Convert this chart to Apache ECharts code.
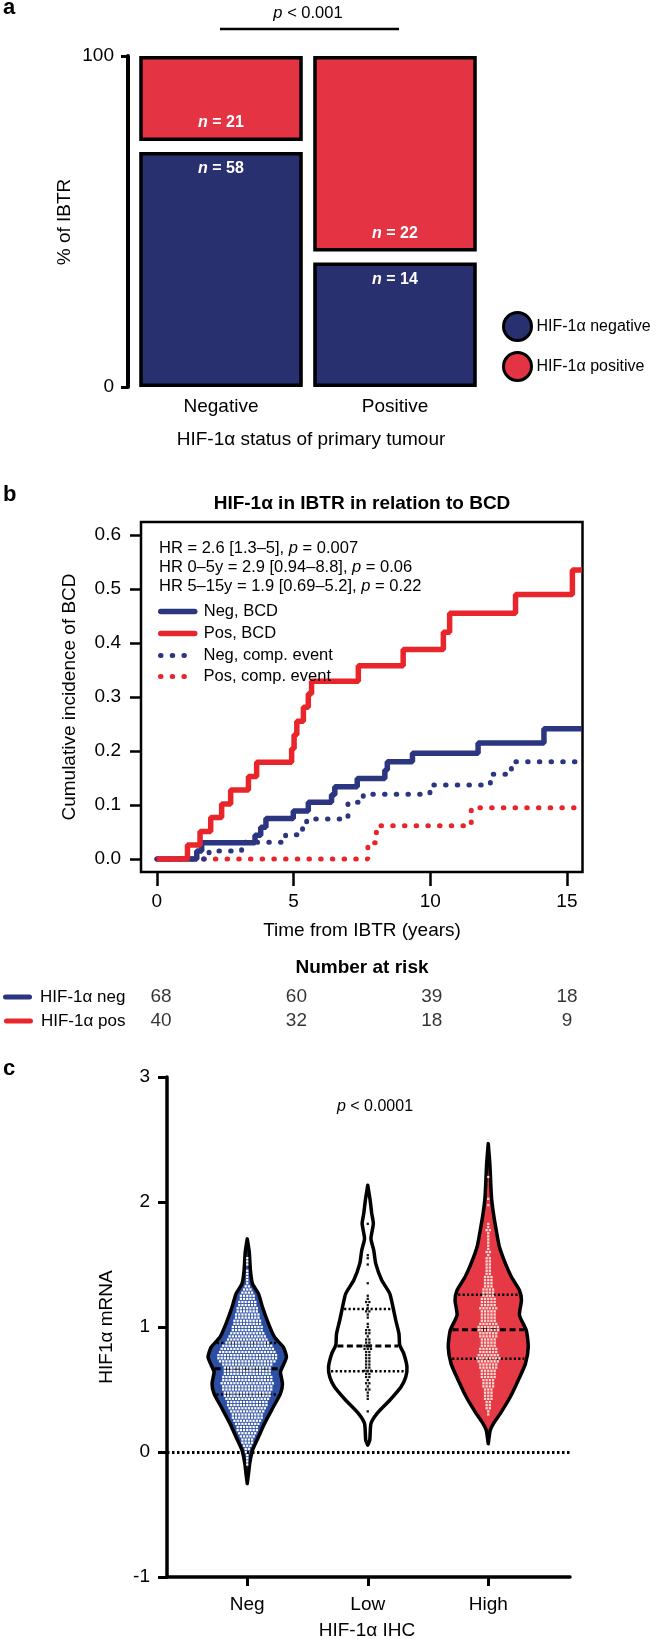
<!DOCTYPE html>
<html><head><meta charset="utf-8">
<script src="https://cdn.jsdelivr.net/npm/echarts@6/dist/echarts.min.js"></script>
<style>html,body{margin:0;padding:0;background:#fff}#c{width:657px;height:1639px}</style>
</head><body><div id="c"></div>
<script>
// ---------------- DATA ----------------
// Panel a: mosaic
const aCategories = ['Negative', 'Positive'];          // HIF-1α status of primary tumour
const aNegCounts = [58, 14];                           // HIF-1α negative IBTR
const aPosCounts = [21, 22];                           // HIF-1α positive IBTR
const aTicks = [0, 100];

// Panel b: cumulative incidence [time (years), cumulative incidence]
const negBCD = [[0,0],[1.46,0.015],[1.64,0.03],[3.59,0.044],[3.80,0.059],[3.99,0.075],[4.99,0.089],[5.54,0.105],[6.39,0.119],[6.51,0.134],[7.33,0.149],[8.34,0.165],[8.43,0.18],[9.35,0.196],[11.75,0.215],[14.16,0.241],[15.55,0.241]];
const posBCD = [[0,0],[1.12,0.026],[1.58,0.051],[1.97,0.077],[2.37,0.102],[2.70,0.128],[3.35,0.153],[3.65,0.179],[4.93,0.204],[5.02,0.23],[5.12,0.255],[5.36,0.281],[5.54,0.306],[5.66,0.329],[7.37,0.358],[9.01,0.388],[10.48,0.42],[10.71,0.455],[13.12,0.49],[15.2,0.535],[15.55,0.535]];
const negComp = [[0,0],[1.91,0.015],[3.1,0.031],[4.71,0.045],[5.33,0.06],[5.48,0.074],[6.99,0.105],[7.55,0.12],[9.99,0.137],[12.2,0.157],[12.97,0.18],[15.55,0.18]];
const posComp = [[0,0],[7.72,0.03],[8.03,0.0615],[11.5,0.095],[15.55,0.095]];
const bTimeTicks = [0, 5, 10, 15];
const bIncTicks = [0, 0.1, 0.2, 0.3, 0.4, 0.5, 0.6];
const riskGroups = ['HIF-1α neg', 'HIF-1α pos'];
const riskTimes = [0, 5, 10, 15];
const riskNeg = [68, 60, 39, 18];
const riskPos = [40, 32, 18, 9];

// Panel c: violins (value levels and relative half-widths), quartiles, binned dots
const cCategories = ['Neg', 'Low', 'High'];
const cTicks = [-1, 0, 1, 2, 3];
const negViolinY = [-0.253,-0.15,-0.093,0.013,0.12,0.227,0.36,0.467,0.547,0.64,0.694,0.76,0.84,0.92,1.027,1.16,1.267,1.347,1.45,1.6,1.705];
const negViolinW = [0,0.04,0.06,0.13,0.28,0.43,0.65,0.83,0.88,0.83,0.9,0.98,0.9,0.68,0.53,0.38,0.28,0.13,0.08,0.05,0];
const lowViolinY = [0.055,0.094,0.227,0.307,0.414,0.52,0.6,0.68,0.787,0.854,0.947,1.054,1.16,1.267,1.374,1.507,1.614,1.707,1.827,1.907,2.014,2.134];
const lowViolinW = [0,0.05,0.08,0.23,0.55,0.83,0.95,0.98,0.9,0.8,0.78,0.7,0.63,0.55,0.35,0.2,0.15,0.08,0.14,0.1,0.06,0];
const highViolinY = [0.067,0.174,0.227,0.307,0.44,0.574,0.707,0.84,0.974,1.094,1.214,1.294,1.4,1.507,1.64,1.774,1.907,2.04,2.307,2.467];
const highViolinW = [0,0.05,0.13,0.3,0.55,0.75,0.93,1.0,0.95,0.78,0.83,0.78,0.58,0.43,0.28,0.2,0.13,0.08,0.04,0];
const negQuartiles = [0.461, 0.667, 0.872];
const lowQuartiles = [0.646, 0.848, 1.144];
const highQuartiles = [0.747, 0.979, 1.259];
const dotBinWidth = 0.025;
const negDotBinStart = -0.1;
const negDotCounts = [1,1,1,1,2,2,3,4,4,5,6,7,7,8,9,10,10,11,12,13,13,14,15,15,16,16,17,16,16,15,15,15,16,18,19,19,18,17,16,14,13,12,11,10,10,9,9,8,8,7,7,6,6,5,5,4,3,2,1,1,1,1,1,0,1,1,1];
const lowDotBinStart = 0.325;
const lowDotCounts = [1,0,0,0,1,1,1,2,1,2,1,2,2,3,2,2,2,2,2,2,3,3,2,2,1,2,2,1,1,0,1,1,2,1,1,2,1,1,0,0,0,1,0,0,0,0,0,1,0,1,1,0,0,0,0,0,0,0,0,0,1];
const highDotBinStart = 0.3;
const highDotCounts = [1,1,2,2,2,3,3,3,3,4,4,4,5,5,5,6,6,7,8,7,6,6,5,5,5,6,6,7,7,6,5,5,5,5,6,5,5,5,4,4,4,3,3,3,3,2,2,2,2,2,2,1,2,1,1,1,1,1,1,2,1,1,0,0,0,0,0,1,0,1,0,0,0,0,0,0,1];

// ---------------- STYLE ----------------
const FONT = "'Liberation Sans', Arial, Helvetica, sans-serif";
const NAVY_A = '#29306f', RED_A = '#e43444';
const NAVY_B = '#2b3580', RED_B = '#e8252b';
const BLUE_C = '#2d4fa3', RED_C = '#e63946';

const violinGroups = [
  {y: negViolinY, w: negViolinW, q: negQuartiles, start: negDotBinStart, counts: negDotCounts, fill: BLUE_C, dot: '#ffffff'},
  {y: lowViolinY, w: lowViolinW, q: lowQuartiles, start: lowDotBinStart, counts: lowDotCounts, fill: '#ffffff', dot: '#111111'},
  {y: highViolinY, w: highViolinW, q: highQuartiles, start: highDotBinStart, counts: highDotCounts, fill: RED_C, dot: '#f6dcd4'}
];

function interp(ys, ws, v) {
  for (let i = 0; i < ys.length - 1; i++) {
    if (v >= ys[i] && v <= ys[i + 1]) {
      const f = (v - ys[i]) / (ys[i + 1] - ys[i]);
      return ws[i] + f * (ws[i + 1] - ws[i]);
    }
  }
  return 0;
}

function renderViolin(params, api) {
  const g = api.value(0);
  const V = violinGroups[g];
  const cx = api.coord([g, 0])[0];
  const maxHW = api.size([1, 0])[0] * 0.332;
  const yPix = v => api.coord([g, v])[1];
  const left = [], right = [];
  V.y.forEach((v, i) => {
    const py = yPix(v);
    left.push([cx - V.w[i] * maxHW, py]);
    right.push([cx + V.w[i] * maxHW, py]);
  });
  const pts = left.concat(right.reverse());
  const children = [{
    type: 'polygon', shape: {points: pts, smooth: 0.2},
    style: {fill: V.fill, stroke: '#000', lineWidth: 3.5, lineJoin: 'round'}
  }];
  V.q.forEach((qv, k) => {
    const hw = interp(V.y, V.w, qv) * maxHW - 2;
    const py = yPix(qv);
    children.push({
      type: 'line', shape: {x1: cx - hw, y1: py, x2: cx + hw, y2: py},
      style: {stroke: '#000', lineWidth: k === 1 ? 3 : 2.5, lineDash: k === 1 ? [6, 3.5] : [2.2, 2.2]}
    });
  });
  const DS = 2.3, GAP = 3.2;
  V.counts.forEach((n, i) => {
    if (!n) return;
    const py = yPix(V.start + i * dotBinWidth);
    for (let j = 0; j < n; j++) {
      const px = cx + (j - (n - 1) / 2) * GAP;
      children.push({type: 'rect', shape: {x: px - DS / 2, y: py - DS / 2, width: DS, height: DS}, style: {fill: V.dot}});
    }
  });
  return {type: 'group', children};
}

function mosaicRenderer(isTop) {
  return function (params, api) {
    const i = api.value(0), own = api.value(1), other = api.value(2);
    const frac = own / (own + other);
    const c0 = api.coord([i, 0]), c100 = api.coord([i, 100]);
    const w = api.size([1, 0])[0] * 0.94;
    const GAPPX = 11, BW = 3.5;
    const H = (c0[1] - c100[1] - GAPPX) * frac;
    const x = c0[0] - w / 2;
    const y = isTop ? c100[1] : c0[1] - H;
    const ty = isTop ? y + H - 18 : y + 17;
    return {
      type: 'group', children: [
        {type: 'rect', shape: {x: x + BW / 2, y: y + BW / 2, width: w - BW, height: H - BW},
          style: {fill: api.visual('color'), stroke: '#000', lineWidth: BW}},
        {type: 'text', style: {
          text: '{i|n} = ' + own, x: c0[0], y: ty, align: 'center', verticalAlign: 'middle',
          fill: '#fff', fontSize: 16, fontWeight: 'bold', fontFamily: FONT,
          rich: {i: {fontStyle: 'italic', fontWeight: 'bold', fontSize: 16, fontFamily: FONT, fill: '#fff'}}
        }}
      ]
    };
  };
}

function T(text, x, y, extra, rot) {
  const style = Object.assign({
    text, fill: '#000', fontSize: 19, fontFamily: FONT,
    align: 'center', verticalAlign: 'middle', textAlign: 'center', textVerticalAlign: 'middle'
  }, extra || {});
  const el = {type: 'text', x, y, silent: true, style};
  if (rot) el.rotation = rot;
  return el;
}
const italicRich = size => ({i: {fontStyle: 'italic', fontSize: size, fontFamily: FONT, fill: '#000'}});

const lineSeries = (name, data, color, dotted) => ({
  name, type: 'line', xAxisIndex: 1, yAxisIndex: 1, data, step: 'end',
  symbol: 'none', showSymbol: false, silent: true,
  lineStyle: dotted ? {color, width: 5, type: [0.5, 11.2], cap: 'round'} : {color, width: 5.5, cap: 'butt'},
  itemStyle: {color}
});

const legendB = (name, cy, color, dotted) => ({
  data: [name], left: 158, top: cy - 9, padding: 0, itemWidth: 34, itemHeight: 18,
  selectedMode: false,
  lineStyle: dotted ? {width: 5, type: [0.5, 11.2], cap: 'round', color} : {width: 5.5, cap: 'round', color},
  itemStyle: {color: 'transparent', borderWidth: 0, opacity: 0},
  textStyle: {fontSize: 16.5, fontFamily: FONT, color: '#000', padding: [0, 0, 0, 4]}
});

const axisBlack = {color: '#000'};

const option = {
  animation: false,
  backgroundColor: '#fff',
  textStyle: {fontFamily: FONT, color: '#000'},
  grid: [
    {left: 134, width: 348, top: 56, height: 331},
    {left: 141, width: 441.5, top: 522, height: 350, show: true, borderColor: '#000', borderWidth: 2.5, backgroundColor: 'transparent'},
    {left: 141, width: 441.5, top: 985, height: 48},
    {left: 167, width: 403, top: 1077, height: 500},
    {left: 187, width: 361.5, top: 1077, height: 500}
  ],
  xAxis: [
    {gridIndex: 0, type: 'category', data: aCategories, axisLine: {show: false, onZero: false}, axisTick: {show: false},
      axisLabel: {fontSize: 19, color: '#000', margin: 10, fontFamily: FONT}},
    {gridIndex: 1, type: 'value', min: -0.58, max: 15.57, axisLine: {show: false, onZero: false},
      axisTick: {show: true, customValues: bTimeTicks, length: 14, lineStyle: {width: 2.5, color: '#000'}},
      axisLabel: {customValues: bTimeTicks, fontSize: 19, color: '#000', margin: 20, fontFamily: FONT}, splitLine: {show: false}},
    {gridIndex: 2, type: 'value', min: -0.58, max: 15.57, show: false},
    {gridIndex: 3, type: 'value', min: 0, max: 1, axisLine: {show: true, onZero: false, lineStyle: {color: '#000', width: 3.5}},
      axisTick: {show: false}, axisLabel: {show: false}, splitLine: {show: false}},
    {gridIndex: 4, type: 'category', data: cCategories, axisLine: {show: false, onZero: false},
      axisTick: {show: true, alignWithLabel: true, length: 9, lineStyle: {width: 3, color: '#000'}},
      axisLabel: {fontSize: 19, color: '#000', margin: 18, fontFamily: FONT}}
  ],
  yAxis: [
    {gridIndex: 0, type: 'value', min: 0, max: 100, interval: 100, offset: 6,
      axisLine: {show: true, onZero: false, lineStyle: {color: '#000', width: 4}},
      axisTick: {show: true, length: 7, lineStyle: {width: 3, color: '#000'}},
      axisLabel: {fontSize: 19, color: '#000', margin: 14, fontFamily: FONT}, splitLine: {show: false}},
    {gridIndex: 1, type: 'value', min: -0.024, max: 0.624, axisLine: {show: false, onZero: false},
      axisTick: {show: true, customValues: bIncTicks, length: 11, lineStyle: {width: 2.5, color: '#000'}},
      axisLabel: {customValues: bIncTicks, formatter: v => Number(v).toFixed(1), fontSize: 19, color: '#000', margin: 20, fontFamily: FONT},
      splitLine: {show: false}},
    {gridIndex: 2, type: 'category', data: riskGroups, inverse: true, axisLine: {show: false}, axisTick: {show: false},
      axisLabel: {margin: 20, fontFamily: FONT,
        formatter: v => (v === riskGroups[0] ? '{n|}' : '{p|}') + '{t|' + v + '}',
        rich: {
          n: {width: 29, height: 5, backgroundColor: NAVY_B, borderRadius: 3},
          p: {width: 29, height: 5, backgroundColor: RED_B, borderRadius: 3},
          t: {fontSize: 17, color: '#000', padding: [0, 0, 0, 8], fontFamily: FONT}
        }}},
    {gridIndex: 3, type: 'value', min: -1, max: 3, interval: 1,
      axisLine: {show: true, onZero: false, lineStyle: {color: '#000', width: 3.5}},
      axisTick: {show: true, length: 9, lineStyle: {width: 3, color: '#000'}},
      axisLabel: {fontSize: 19, color: '#000', margin: 17, fontFamily: FONT}, splitLine: {show: false}},
    {gridIndex: 4, type: 'value', min: -1, max: 3, show: false}
  ],
  legend: [
    {data: ['HIF-1α negative', 'HIF-1α positive'], orient: 'vertical', left: 502, top: 311, padding: 0,
      itemWidth: 28, itemHeight: 28, itemGap: 9, icon: 'circle', selectedMode: false,
      itemStyle: {borderColor: '#000', borderWidth: 3},
      textStyle: {fontSize: 16, fontFamily: FONT, color: '#000'}},
    legendB('Neg, BCD', 612, NAVY_B, false),
    legendB('Pos, BCD', 634, RED_B, false),
    legendB('Neg, comp. event', 656, NAVY_B, true),
    legendB('Pos, comp. event', 677, RED_B, true)
  ],
  series: [
    {name: 'HIF-1α negative', type: 'custom', xAxisIndex: 0, yAxisIndex: 0, silent: true,
      itemStyle: {color: NAVY_A}, renderItem: mosaicRenderer(false),
      data: aCategories.map((c, i) => [i, aNegCounts[i], aPosCounts[i]])},
    {name: 'HIF-1α positive', type: 'custom', xAxisIndex: 0, yAxisIndex: 0, silent: true,
      itemStyle: {color: RED_A}, renderItem: mosaicRenderer(true),
      data: aCategories.map((c, i) => [i, aPosCounts[i], aNegCounts[i]])},
    lineSeries('Pos, comp. event', posComp, RED_B, true),
    lineSeries('Neg, comp. event', negComp, NAVY_B, true),
    lineSeries('Neg, BCD', negBCD, NAVY_B, false),
    lineSeries('Pos, BCD', posBCD, RED_B, false),
    {name: 'risk', type: 'scatter', xAxisIndex: 2, yAxisIndex: 2, symbolSize: 1, silent: true,
      itemStyle: {color: 'transparent'},
      label: {show: true, position: 'inside', formatter: p => p.value[2], fontSize: 19, color: '#000', fontFamily: FONT},
      data: riskTimes.map((t, i) => [t, 0, riskNeg[i]]).concat(riskTimes.map((t, i) => [t, 1, riskPos[i]]))},
    {name: 'zero', type: 'line', xAxisIndex: 3, yAxisIndex: 3, data: [], silent: true,
      markLine: {silent: true, symbol: ['none', 'none'], label: {show: false},
        lineStyle: {type: [2.5, 2.5], width: 3, color: '#000'}, data: [{yAxis: 0}]}},
    {name: 'violins', type: 'custom', xAxisIndex: 4, yAxisIndex: 4, silent: true,
      renderItem: renderViolin, data: cCategories.map((c, i) => [i, violinGroups[i].q[1]])}
  ],
  graphic: [
    T('a', 3, 8, {fontSize: 22, fontWeight: 'bold', align: 'left', textAlign: 'left'}),
    T('{i|p} < 0.001', 308, 13, {fontSize: 16.5, rich: italicRich(16.5)}),
    {type: 'line', silent: true, shape: {x1: 220, y1: 29, x2: 399, y2: 29}, style: {stroke: '#000', lineWidth: 2.5}},
    T('% of IBTR', 65, 222, {}, Math.PI / 2),
    T('HIF-1α status of primary tumour', 311, 440),
    T('b', 3, 495, {fontSize: 22, fontWeight: 'bold', align: 'left', textAlign: 'left'}),
    T('HIF-1α in IBTR in relation to BCD', 362, 504, {fontWeight: 'bold'}),
    T('HR = 2.6 [1.3–5], {i|p} = 0.007', 159, 548, {fontSize: 16.5, align: 'left', textAlign: 'left', rich: italicRich(16.5)}),
    T('HR 0–5y = 2.9 [0.94–8.8], {i|p} = 0.06', 159, 567, {fontSize: 16.5, align: 'left', textAlign: 'left', rich: italicRich(16.5)}),
    T('HR 5–15y = 1.9 [0.69–5.2], {i|p} = 0.22', 159, 586, {fontSize: 16.5, align: 'left', textAlign: 'left', rich: italicRich(16.5)}),
    T('Cumulative incidence of BCD', 70, 697, {}, Math.PI / 2),
    T('Time from IBTR (years)', 362, 931),
    T('Number at risk', 362, 968, {fontWeight: 'bold'}),
    T('c', 3, 1069, {fontSize: 22, fontWeight: 'bold', align: 'left', textAlign: 'left'}),
    T('{i|p} < 0.0001', 375, 1107, {fontSize: 16, rich: italicRich(16)}),
    T('HIF1α mRNA', 107, 1327, {}, Math.PI / 2),
    T('HIF-1α IHC', 367, 1631)
  ]
};

const chart = echarts.init(document.getElementById('c'), null, {renderer: 'canvas'});
chart.setOption(option);
</script>
</body></html>
